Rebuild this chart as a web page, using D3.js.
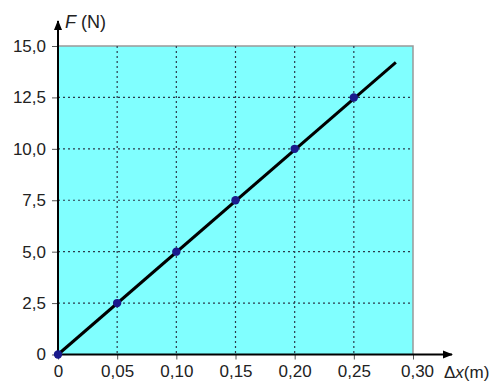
<!DOCTYPE html>
<html><head><meta charset="utf-8">
<script src="https://cdn.jsdelivr.net/npm/d3@7"></script>
<style>body{margin:0;background:#fff}svg{display:block}text{font-family:"Liberation Sans",Arial,sans-serif}</style>
</head><body>
<svg id="c" width="500" height="381"></svg>
<script>
const xTicks = [0, 0.05, 0.10, 0.15, 0.20, 0.25, 0.30];
const xTickLabels = ["0", "0,05", "0,10", "0,15", "0,20", "0,25", "0,30"];
const yTicks = [0, 2.5, 5.0, 7.5, 10.0, 12.5, 15.0];
const yTickLabels = ["0", "2,5", "5,0", "7,5", "10,0", "12,5", "15,0"];
const pointsX = [0, 0.05, 0.10, 0.15, 0.20, 0.25];
const pointsF = [0, 2.5, 5.0, 7.5, 10.0, 12.5];
const lineX = [0, 0.2855];
const lineF = [0, 14.2];

const svg = d3.select("#c");
const x = d3.scaleLinear().domain([0, 0.30]).range([58, 413]);
const y = d3.scaleLinear().domain([0, 15]).range([354.5, 46]);

svg.append("rect").attr("x", x(0)).attr("y", y(15)).attr("width", x(0.30)-x(0)).attr("height", y(0)-y(15))
  .attr("fill", "#80ffff");
svg.append("path").attr("d", `M${x(0)},${y(15)}H${x(0.30)}V${y(0)}`).attr("fill","none").attr("stroke","#999").attr("stroke-width",1.5);

const g = svg.append("g");
xTicks.slice(1, -1).forEach(t => {
  g.append("line").attr("x1", x(t)).attr("x2", x(t)).attr("y1", y(15)).attr("y2", y(0))
    .attr("stroke", "#2a3a4a").attr("stroke-width", 1.2).attr("stroke-dasharray", "2,3");
});
yTicks.slice(1, -1).forEach(t => {
  g.append("line").attr("x1", x(0)).attr("x2", x(0.30)).attr("y1", y(t)).attr("y2", y(t))
    .attr("stroke", "#2a3a4a").attr("stroke-width", 1.2).attr("stroke-dasharray", "2,3");
});

const yAxis = d3.axisLeft(y).tickValues(yTicks).tickFormat((d,i)=>yTickLabels[i]).tickSize(6).tickPadding(6);
const ya = svg.append("g").attr("transform", `translate(${x(0)},0)`).call(yAxis);
ya.select(".domain").remove();
ya.selectAll(".tick line").attr("stroke", "#555");
ya.selectAll("text").attr("font-size", 17).attr("fill", "#222").attr("font-family", "Liberation Sans, Arial, sans-serif");

const xAxis = d3.axisBottom(x).tickValues(xTicks).tickFormat((d,i)=>xTickLabels[i]).tickSize(5).tickPadding(5);
const xa = svg.append("g").attr("transform", `translate(0,${y(0)})`).call(xAxis);
xa.select(".domain").remove();
xa.selectAll(".tick line").attr("stroke", "#555");
xa.selectAll("text").attr("font-size", 17).attr("fill", "#222").attr("font-family", "Liberation Sans, Arial, sans-serif");
xa.selectAll(".tick").filter(d => d === 0.30).select("text").attr("dx", 4);

const defs = svg.append("defs");
defs.append("marker").attr("id","arr").attr("viewBox","0 0 10 10").attr("refX",9).attr("refY",5)
  .attr("markerWidth",5).attr("markerHeight",5).attr("orient","auto")
  .append("path").attr("d","M0,1L10,5L0,9Z").attr("fill","#000");
svg.append("line").attr("x1", x(0)).attr("x2", x(0)).attr("y1", y(0)+1).attr("y2", 21)
  .attr("stroke","#000").attr("stroke-width",2).attr("marker-end","url(#arr)");
svg.append("line").attr("x1", x(0)-1).attr("x2", 452).attr("y1", y(0)).attr("y2", y(0))
  .attr("stroke","#000").attr("stroke-width",2).attr("marker-end","url(#arr)");

const ft = svg.append("text").attr("x", 65).attr("y", 28).attr("font-size", 18).attr("fill","#222");
ft.append("tspan").attr("font-style","italic").text("F");
ft.append("tspan").text(" (N)");
const xt = svg.append("text").attr("x", 444).attr("y", 378).attr("font-size", 17).attr("fill","#222");
xt.append("tspan").text("Δ");
xt.append("tspan").attr("font-style","italic").text("x");
xt.append("tspan").text("(m)");

const line = d3.line().x(d => x(d[0])).y(d => y(d[1]));
svg.append("path").datum(lineX.map((v,i)=>[v, lineF[i]])).attr("d", line)
  .attr("fill","none").attr("stroke","#000").attr("stroke-width",3);

svg.selectAll("circle.p").data(pointsX.map((v,i)=>[v, pointsF[i]])).enter().append("circle")
  .attr("cx", d=>x(d[0])).attr("cy", d=>y(d[1])).attr("r", 4.2).attr("fill","#1a1a8c");
</script>
</body></html>
